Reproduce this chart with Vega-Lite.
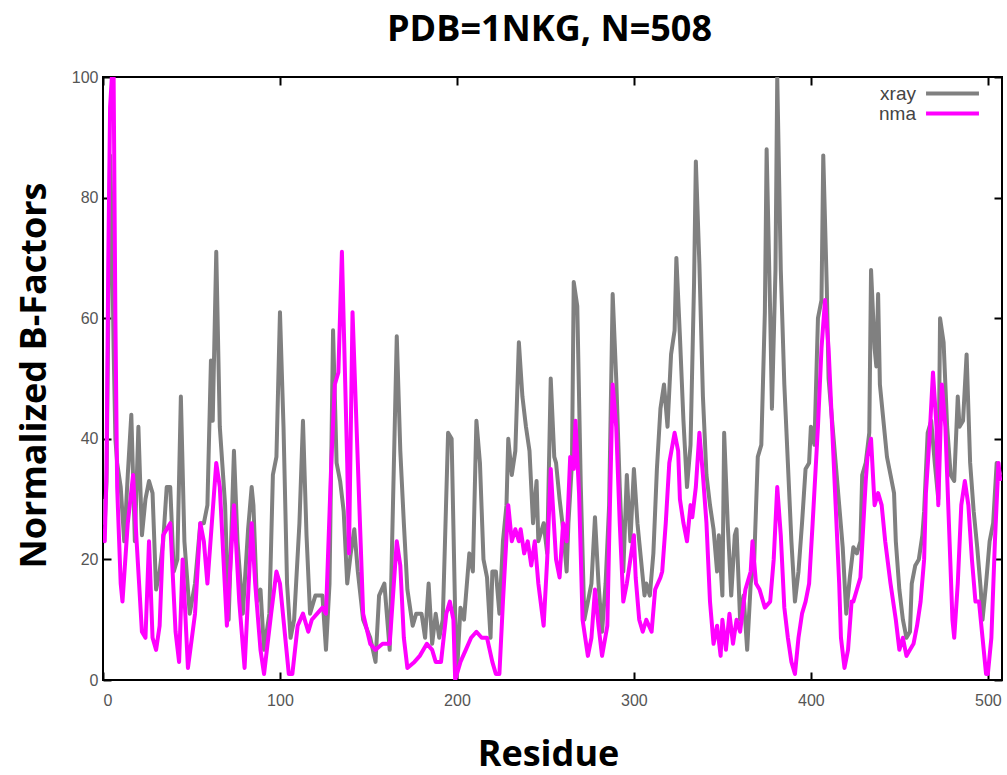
{
"$schema": "https://vega.github.io/schema/vega-lite/v6.json",
"width": 899, "height": 603,
"autosize": {"type": "none"},
"padding": {"left": 103, "top": 77, "right": 5, "bottom": 95},
"background": "white",
"config": {"view": {"stroke": "#000", "strokeWidth": 2}, "font": "Liberation Sans"},
"title": {"text": "PDB=1NKG, N=508", "font": "Open Sans", "fontSize": 36, "fontWeight": "bold", "color": "#000", "anchor": "middle", "frame": "group", "baseline": "alphabetic", "offset": 32, "dx": -3, "dy": 40},
"datasets": {
"xray": [
{"r":0,"v":30},{"r":1,"v":26},{"r":2,"v":33},{"r":3,"v":60},{"r":4,"v":87},{"r":5,"v":75},{"r":6,"v":55},{"r":7,"v":40},{"r":8,"v":36},{"r":10,"v":32},{"r":12,"v":23},{"r":14,"v":34},{"r":16,"v":44},{"r":18,"v":23},{"r":20,"v":42},{"r":22,"v":24},{"r":24,"v":30},{"r":26,"v":33},{"r":28,"v":31},{"r":30,"v":15},{"r":32,"v":18},{"r":34,"v":23},{"r":36,"v":32},{"r":38,"v":32},{"r":40,"v":18},{"r":42,"v":20},{"r":44,"v":47},{"r":46,"v":23},{"r":49,"v":11},{"r":52,"v":16},{"r":55,"v":26},{"r":57,"v":26},{"r":59,"v":29},{"r":61,"v":53},{"r":62,"v":43},{"r":64,"v":71},{"r":66,"v":42},{"r":69,"v":29},{"r":71,"v":10},{"r":74,"v":38},{"r":76,"v":23},{"r":79,"v":11},{"r":82,"v":25},{"r":84,"v":32},{"r":85,"v":29},{"r":87,"v":13},{"r":89,"v":15},{"r":91,"v":5},{"r":94,"v":11},{"r":96,"v":34},{"r":98,"v":37},{"r":100,"v":61},{"r":102,"v":42},{"r":104,"v":16},{"r":106,"v":7},{"r":108,"v":10},{"r":111,"v":26},{"r":113,"v":43},{"r":115,"v":24},{"r":117,"v":11},{"r":120,"v":14},{"r":122,"v":14},{"r":124,"v":14},{"r":126,"v":5},{"r":128,"v":16},{"r":130,"v":58},{"r":132,"v":36},{"r":134,"v":33},{"r":136,"v":28},{"r":138,"v":16},{"r":140,"v":21},{"r":142,"v":25},{"r":144,"v":18},{"r":147,"v":10},{"r":151,"v":7},{"r":154,"v":3},{"r":156,"v":14},{"r":159,"v":16},{"r":162,"v":5},{"r":166,"v":57},{"r":168,"v":38},{"r":170,"v":26},{"r":172,"v":15},{"r":173,"v":13},{"r":175,"v":9},{"r":177,"v":11},{"r":180,"v":11},{"r":182,"v":7},{"r":184,"v":16},{"r":186,"v":6},{"r":188,"v":11},{"r":190,"v":7},{"r":192,"v":10},{"r":195,"v":41},{"r":197,"v":40},{"r":199,"v":11},{"r":200,"v":1},{"r":202,"v":12},{"r":204,"v":10},{"r":207,"v":21},{"r":209,"v":18},{"r":211,"v":43},{"r":213,"v":36},{"r":215,"v":20},{"r":217,"v":17},{"r":219,"v":7},{"r":220,"v":18},{"r":222,"v":18},{"r":224,"v":11},{"r":226,"v":23},{"r":228,"v":29},{"r":229,"v":40},{"r":231,"v":34},{"r":233,"v":38},{"r":235,"v":56},{"r":237,"v":47},{"r":239,"v":42},{"r":241,"v":38},{"r":243,"v":26},{"r":245,"v":33},{"r":246,"v":23},{"r":249,"v":26},{"r":251,"v":21},{"r":253,"v":50},{"r":255,"v":37},{"r":256,"v":36},{"r":258,"v":30},{"r":260,"v":25},{"r":262,"v":18},{"r":263,"v":26},{"r":265,"v":36},{"r":266,"v":66},{"r":268,"v":62},{"r":270,"v":32},{"r":272,"v":10},{"r":274,"v":13},{"r":276,"v":16},{"r":278,"v":27},{"r":280,"v":16},{"r":282,"v":8},{"r":284,"v":16},{"r":286,"v":29},{"r":288,"v":64},{"r":290,"v":50},{"r":292,"v":32},{"r":294,"v":18},{"r":296,"v":34},{"r":298,"v":23},{"r":300,"v":35},{"r":302,"v":26},{"r":304,"v":20},{"r":306,"v":14},{"r":307,"v":16},{"r":309,"v":14},{"r":311,"v":21},{"r":313,"v":35},{"r":315,"v":45},{"r":317,"v":49},{"r":319,"v":42},{"r":321,"v":54},{"r":323,"v":58},{"r":324,"v":70},{"r":326,"v":57},{"r":328,"v":43},{"r":330,"v":32},{"r":332,"v":39},{"r":334,"v":66},{"r":335,"v":86},{"r":337,"v":69},{"r":339,"v":47},{"r":341,"v":34},{"r":343,"v":29},{"r":345,"v":25},{"r":347,"v":18},{"r":348,"v":24},{"r":350,"v":14},{"r":351,"v":41},{"r":353,"v":26},{"r":355,"v":14},{"r":357,"v":24},{"r":358,"v":25},{"r":360,"v":10},{"r":362,"v":14},{"r":364,"v":5},{"r":366,"v":16},{"r":368,"v":20},{"r":370,"v":37},{"r":372,"v":39},{"r":374,"v":61},{"r":375,"v":88},{"r":377,"v":61},{"r":378,"v":45},{"r":380,"v":68},{"r":381,"v":100},{"r":383,"v":68},{"r":385,"v":49},{"r":387,"v":36},{"r":389,"v":23},{"r":391,"v":13},{"r":393,"v":18},{"r":395,"v":26},{"r":397,"v":35},{"r":399,"v":36},{"r":400,"v":42},{"r":402,"v":39},{"r":404,"v":60},{"r":406,"v":63},{"r":407,"v":87},{"r":409,"v":65},{"r":410,"v":50},{"r":412,"v":43},{"r":414,"v":36},{"r":416,"v":29},{"r":418,"v":22},{"r":420,"v":11},{"r":422,"v":17},{"r":424,"v":22},{"r":426,"v":21},{"r":428,"v":23},{"r":429,"v":34},{"r":431,"v":36},{"r":433,"v":41},{"r":434,"v":68},{"r":436,"v":55},{"r":437,"v":52},{"r":438,"v":64},{"r":439,"v":49},{"r":441,"v":43},{"r":443,"v":37},{"r":445,"v":34},{"r":447,"v":31},{"r":448,"v":23},{"r":450,"v":15},{"r":452,"v":10},{"r":454,"v":7},{"r":456,"v":8},{"r":457,"v":16},{"r":459,"v":19},{"r":461,"v":20},{"r":463,"v":24},{"r":464,"v":28},{"r":466,"v":41},{"r":468,"v":43},{"r":470,"v":36},{"r":472,"v":30},{"r":473,"v":60},{"r":475,"v":56},{"r":477,"v":42},{"r":479,"v":34},{"r":481,"v":33},{"r":483,"v":47},{"r":484,"v":42},{"r":486,"v":43},{"r":488,"v":54},{"r":490,"v":36},{"r":492,"v":28},{"r":494,"v":22},{"r":496,"v":15},{"r":497,"v":10},{"r":499,"v":16},{"r":501,"v":23},{"r":503,"v":26},{"r":505,"v":36},{"r":507,"v":34}
],
"nma": [
{"r":0,"v":25},{"r":1,"v":23},{"r":2,"v":35},{"r":3,"v":70},{"r":4,"v":95},{"r":5,"v":100},{"r":6,"v":100},{"r":7,"v":60},{"r":8,"v":32},{"r":10,"v":16},{"r":11,"v":13},{"r":14,"v":26},{"r":17,"v":34},{"r":19,"v":23},{"r":22,"v":8},{"r":24,"v":7},{"r":26,"v":23},{"r":28,"v":7},{"r":30,"v":5},{"r":32,"v":9},{"r":34,"v":24},{"r":38,"v":26},{"r":41,"v":8},{"r":43,"v":3},{"r":45,"v":20},{"r":48,"v":2},{"r":52,"v":11},{"r":55,"v":26},{"r":57,"v":23},{"r":59,"v":16},{"r":62,"v":28},{"r":64,"v":36},{"r":66,"v":32},{"r":70,"v":9},{"r":74,"v":29},{"r":77,"v":13},{"r":80,"v":2},{"r":84,"v":26},{"r":86,"v":16},{"r":89,"v":5},{"r":91,"v":1},{"r":95,"v":11},{"r":98,"v":18},{"r":100,"v":16},{"r":102,"v":10},{"r":105,"v":1},{"r":107,"v":1},{"r":110,"v":9},{"r":113,"v":11},{"r":116,"v":8},{"r":118,"v":10},{"r":121,"v":11},{"r":124,"v":12},{"r":126,"v":11},{"r":129,"v":36},{"r":131,"v":49},{"r":133,"v":51},{"r":135,"v":71},{"r":138,"v":36},{"r":139,"v":21},{"r":141,"v":61},{"r":144,"v":36},{"r":147,"v":11},{"r":151,"v":6},{"r":154,"v":5},{"r":158,"v":6},{"r":162,"v":6},{"r":166,"v":23},{"r":168,"v":19},{"r":170,"v":7},{"r":172,"v":2},{"r":176,"v":3},{"r":179,"v":4},{"r":183,"v":6},{"r":186,"v":5},{"r":188,"v":3},{"r":191,"v":3},{"r":194,"v":11},{"r":196,"v":13},{"r":198,"v":10},{"r":199,"v":0},{"r":202,"v":3},{"r":205,"v":5},{"r":208,"v":7},{"r":211,"v":8},{"r":214,"v":7},{"r":217,"v":7},{"r":220,"v":3},{"r":222,"v":1},{"r":224,"v":1},{"r":226,"v":13},{"r":229,"v":29},{"r":231,"v":23},{"r":233,"v":25},{"r":235,"v":23},{"r":236,"v":25},{"r":238,"v":21},{"r":240,"v":23},{"r":242,"v":19},{"r":244,"v":23},{"r":246,"v":16},{"r":249,"v":9},{"r":251,"v":20},{"r":253,"v":35},{"r":255,"v":25},{"r":256,"v":20},{"r":258,"v":17},{"r":260,"v":26},{"r":262,"v":23},{"r":264,"v":37},{"r":266,"v":35},{"r":267,"v":43},{"r":269,"v":31},{"r":271,"v":10},{"r":274,"v":4},{"r":276,"v":7},{"r":278,"v":15},{"r":280,"v":9},{"r":282,"v":4},{"r":285,"v":9},{"r":286,"v":23},{"r":288,"v":49},{"r":290,"v":42},{"r":292,"v":26},{"r":294,"v":13},{"r":296,"v":16},{"r":298,"v":20},{"r":300,"v":24},{"r":301,"v":17},{"r":303,"v":10},{"r":305,"v":8},{"r":307,"v":10},{"r":310,"v":8},{"r":312,"v":15},{"r":315,"v":17},{"r":316,"v":18},{"r":318,"v":26},{"r":320,"v":36},{"r":323,"v":41},{"r":325,"v":38},{"r":326,"v":30},{"r":328,"v":26},{"r":330,"v":23},{"r":332,"v":29},{"r":333,"v":27},{"r":335,"v":32},{"r":337,"v":41},{"r":339,"v":34},{"r":341,"v":26},{"r":343,"v":13},{"r":345,"v":6},{"r":347,"v":9},{"r":349,"v":4},{"r":350,"v":10},{"r":352,"v":5},{"r":354,"v":11},{"r":356,"v":6},{"r":358,"v":10},{"r":360,"v":8},{"r":363,"v":15},{"r":366,"v":18},{"r":367,"v":23},{"r":369,"v":16},{"r":371,"v":15},{"r":374,"v":12},{"r":377,"v":13},{"r":379,"v":20},{"r":381,"v":32},{"r":383,"v":24},{"r":385,"v":12},{"r":387,"v":7},{"r":389,"v":3},{"r":391,"v":1},{"r":393,"v":7},{"r":395,"v":11},{"r":397,"v":13},{"r":399,"v":16},{"r":401,"v":26},{"r":404,"v":42},{"r":406,"v":55},{"r":408,"v":63},{"r":410,"v":55},{"r":412,"v":42},{"r":414,"v":29},{"r":416,"v":16},{"r":417,"v":7},{"r":419,"v":2},{"r":421,"v":5},{"r":423,"v":13},{"r":424,"v":13},{"r":426,"v":15},{"r":428,"v":17},{"r":431,"v":33},{"r":432,"v":37},{"r":434,"v":40},{"r":436,"v":29},{"r":438,"v":31},{"r":440,"v":29},{"r":442,"v":23},{"r":445,"v":16},{"r":448,"v":10},{"r":450,"v":5},{"r":452,"v":7},{"r":454,"v":4},{"r":456,"v":5},{"r":458,"v":6},{"r":460,"v":9},{"r":462,"v":13},{"r":464,"v":20},{"r":465,"v":31},{"r":467,"v":40},{"r":469,"v":51},{"r":471,"v":42},{"r":472,"v":29},{"r":474,"v":49},{"r":476,"v":42},{"r":478,"v":26},{"r":480,"v":10},{"r":481,"v":7},{"r":483,"v":16},{"r":485,"v":29},{"r":487,"v":33},{"r":489,"v":29},{"r":491,"v":20},{"r":493,"v":13},{"r":495,"v":13},{"r":497,"v":7},{"r":499,"v":1},{"r":500,"v":1},{"r":502,"v":7},{"r":504,"v":23},{"r":506,"v":36},{"r":507,"v":33}
]
},
"layer": [
{
"data": {"name": "xray"},
"mark": {"type": "line", "strokeWidth": 4, "clip": true, "strokeJoin": "round"},
"encoding": {
"x": {"field": "r", "type": "quantitative", "scale": {"domain": [0, 508], "nice": false},
"axis": {"orient": "bottom", "values": [0, 100, 200, 300, 400, 500], "grid": false, "domain": false, "tickSize": -8, "tickWidth": 2, "tickColor": "#000", "labelPadding": 20, "labelFont": "Liberation Sans", "labelFontSize": 16, "labelColor": "#555", "title": "Residue", "titleFont": "Open Sans", "titleFontSize": 36, "titleFontWeight": "bold", "titleColor": "#000", "titleX": 445, "titleY": 85, "titleBaseline": "alphabetic", "titleAnchor": null}},
"y": {"field": "v", "type": "quantitative", "scale": {"domain": [0, 100], "nice": false},
"axis": {"orient": "left", "values": [0, 20, 40, 60, 80, 100], "grid": false, "domain": false, "tickSize": -8, "tickWidth": 2, "tickColor": "#000", "labelPadding": 13, "labelFont": "Liberation Sans", "labelFontSize": 16, "labelColor": "#555", "title": "Normalized B-Factors", "titleFont": "Open Sans", "titleFontSize": 36, "titleFontWeight": "bold", "titleColor": "#000", "titleX": -58, "titleY": 298, "titleBaseline": "alphabetic", "titleAngle": -90}},
"color": {"datum": "xray", "type": "nominal", "scale": {"domain": ["xray", "nma"], "range": ["#808080", "#ff00ff"]},
"legend": {"orient": "none", "legendX": 840, "legendY": 7, "title": null, "padding": 0, "symbolType": "M-5,0H5", "symbolSize": 112, "symbolStrokeWidth": 4, "labelFont": "Liberation Sans", "labelFontSize": 19, "labelColor": "#444", "labelAlign": "right", "labelOffset": -46, "rowPadding": 0}}
}
},
{
"data": {"name": "nma"},
"mark": {"type": "line", "strokeWidth": 4, "clip": true, "strokeJoin": "round"},
"encoding": {
"x": {"field": "r", "type": "quantitative",
"axis": {"orient": "top", "values": [0, 100, 200, 300, 400, 500], "grid": false, "domain": false, "labels": false, "tickSize": -8, "tickWidth": 2, "tickColor": "#000", "title": null, "minExtent": 0, "maxExtent": 0}},
"y": {"field": "v", "type": "quantitative",
"axis": {"orient": "right", "values": [0, 20, 40, 60, 80, 100], "grid": false, "domain": false, "labels": false, "tickSize": -8, "tickWidth": 2, "tickColor": "#000", "title": null, "minExtent": 0, "maxExtent": 0}},
"color": {"datum": "nma", "type": "nominal"}
}
}
],
"resolve": {"axis": {"x": "independent", "y": "independent"}}
}
